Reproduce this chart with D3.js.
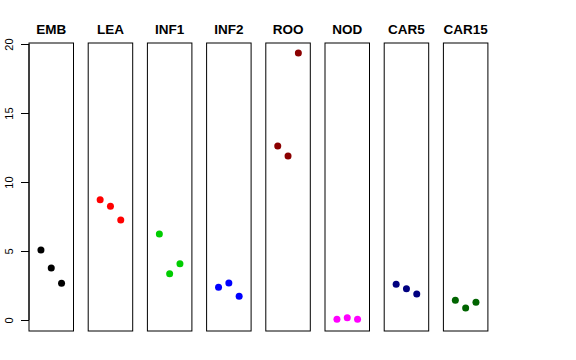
<!DOCTYPE html>
<meta charset="utf-8">
<title>Panels</title>
<body style="margin:0;background:#fff">
<div id="chart"></div>
<script src="https://d3js.org/d3.v7.min.js"></script>
<script>

// tissues and their three values each
var tissues = ["EMB", "LEA", "INF1", "INF2", "ROO", "NOD", "CAR5", "CAR15"];
var colors = ["#000000", "#ff0000", "#00cd00", "#0000ff", "#8b0000", "#ff00ff", "#000080", "#006400"];
var values = [
  [5.07, 3.77, 2.66],
  [8.72, 8.24, 7.25],
  [6.23, 3.36, 4.08],
  [2.37, 2.68, 1.72],
  [12.6, 11.88, 19.35],
  [0.05, 0.17, 0.05],
  [2.59, 2.27, 1.88],
  [1.43, 0.87, 1.28]
];
var yTicks = [0, 5, 10, 15, 20];

var width = 576, height = 360;
var panelLeft = 29, panelStep = 59.2, panelW = 44.5;
var boxTop = 43, boxBottom = 331;

var svg = d3.select("#chart").append("svg")
  .attr("width", width)
  .attr("height", height);

var y = d3.scaleLinear().domain([0, 20]).range([320, 44]);
var x = d3.scaleLinear().domain([-0.16, 4.16]).range([0, panelW]);

// y axis on the first panel
var yAxis = svg.append("g")
  .attr("transform", "translate(" + panelLeft + ",0)")
  .call(d3.axisLeft(y).tickValues(yTicks).tickSize(8).tickPadding(0));
yAxis.select(".domain").attr("stroke", "#000").attr("d", "M0," + y(0) + "V" + y(20));
yAxis.selectAll(".tick line").attr("stroke", "#000");
yAxis.selectAll(".tick text")
  .attr("transform", "translate(-20,0) rotate(-90)")
  .attr("x", 0).attr("dy", "0.35em")
  .attr("text-anchor", "middle")
  .style("font-family", "Liberation Sans, Arial, sans-serif")
  .style("font-size", "11px")
  .attr("fill", "#000");

tissues.forEach(function(name, i) {
  var g = svg.append("g")
    .attr("transform", "translate(" + (panelLeft + i * panelStep) + ",0)");

  g.append("rect")
    .attr("x", 0).attr("y", boxTop)
    .attr("width", panelW).attr("height", boxBottom - boxTop)
    .attr("fill", "none").attr("stroke", "#000").attr("stroke-width", 1);

  g.append("text")
    .attr("x", panelW / 2).attr("y", 34)
    .attr("text-anchor", "middle")
    .style("font-family", "Liberation Sans, Arial, sans-serif")
    .style("font-weight", "bold")
    .style("font-size", "13.5px")
    .text(name);

  g.selectAll("circle")
    .data(values[i])
    .enter()
    .append("circle")
      .attr("cx", function(d, j) { return x(j + 1); })
      .attr("cy", function(d) { return y(d); })
      .attr("r", 3.5)
      .attr("fill", colors[i]);
});

</script>
</body>
